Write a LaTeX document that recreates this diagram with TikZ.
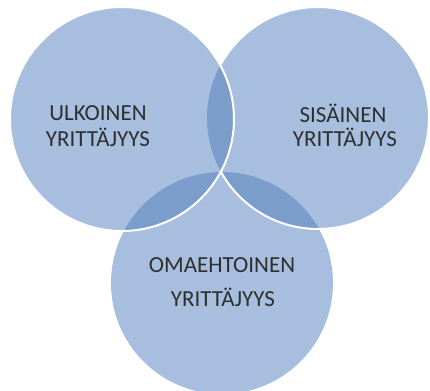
\documentclass[tikz,border=0pt]{standalone}
\usepackage{fontspec}
\setmainfont{Carlito}
\definecolor{lightfill}{HTML}{A7BEDE}
\definecolor{darkfill}{HTML}{7B9DCB}
\definecolor{txt}{HTML}{2F2F2F}
\begin{document}
\begin{tikzpicture}[x=1pt,y=-1pt,
  lbl/.style={text=txt, font=\fontsize{23}{27}\selectfont, align=center, inner sep=0pt},
  edge/.style={white, line width=2pt}]
\useasboundingbox (0,0) rectangle (430,390);
\coordinate (cl) at (122,119);
\coordinate (cr) at (318,118);
\coordinate (cb) at (222,283);
% base fills
\fill[lightfill] (cb) circle[radius=111pt];
\fill[lightfill] (cr) circle[radius=111pt];
\fill[lightfill] (cl) circle[radius=112pt];
% overlaps
\begin{scope}
  \clip (cl) circle[radius=112pt];
  \fill[darkfill] (cr) circle[radius=111pt];
  \fill[darkfill] (cb) circle[radius=111pt];
\end{scope}
\begin{scope}
  \clip (cr) circle[radius=111pt];
  \fill[darkfill] (cb) circle[radius=111pt];
\end{scope}
% white outlines
\begin{scope}[even odd rule]
  \clip (-10,-10) rectangle (440,400) (cl) circle[radius=112pt];
  \draw[edge] (cr) circle[radius=111pt];
\end{scope}
\draw[edge] (cl) circle[radius=112pt];
% labels
\node[lbl] (tl1) at (98,113) {ULKOINEN};
\node[lbl] (tl2) at (98,137) {YRITTÄJYYS};
\node[lbl] (tr1) at (343,113) {SISÄINEN};
\node[lbl] (tr2) at (345,137) {YRITTÄJYYS};
\node[lbl] (tb1) at (222,265) {OMAEHTOINEN};
\node[lbl] (tb2) at (223,297) {YRITTÄJYYS};
\end{tikzpicture}
\end{document}
